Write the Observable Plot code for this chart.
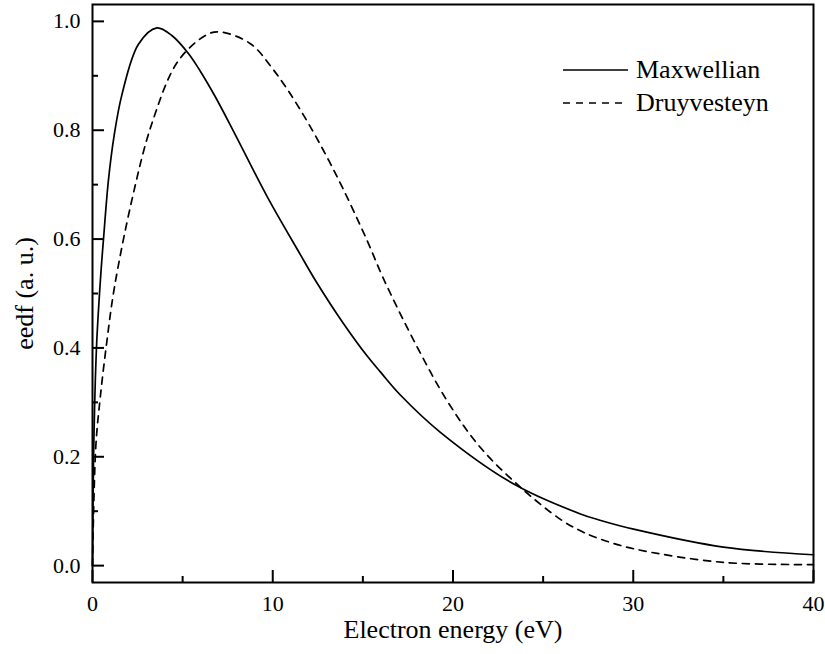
<!DOCTYPE html>
<html>
<head>
<meta charset="utf-8">
<script src="https://cdn.jsdelivr.net/npm/d3@7"></script>
<script src="https://cdn.jsdelivr.net/npm/@observablehq/plot@0.6"></script>
<style>
  html, body { margin: 0; padding: 0; background: #fff; }
  #chart svg { display: block; }
</style>
</head>
<body>
<div id="chart"></div>
<script>
// Electron energy distribution functions (normalised, arbitrary units)
const maxwellEnergy = [0, 0.06, 0.22, 0.45, 0.61, 0.89, 1.2, 1.63, 2.55, 3.57, 4.4, 5.32, 5.99, 6.82, 7.84, 9.69, 11.54, 12.37, 13.94, 15.24, 15.97, 17.08, 19.3, 23.37, 27.07, 28.2, 30.02, 35.0, 40];
const maxwellEedf   = [0, 0.20, 0.40, 0.53, 0.60, 0.71, 0.79, 0.865, 0.958, 0.988, 0.974, 0.941, 0.908, 0.861, 0.797, 0.678, 0.571, 0.524, 0.444, 0.385, 0.356, 0.3135, 0.245, 0.150, 0.095, 0.083, 0.067, 0.034, 0.020];

const druyEnergy = [0, 0.18, 0.43, 0.79, 1.2, 2.18, 3.29, 4.77, 6.43, 7.19, 8.76, 10.06, 11.54, 13.38, 15.24, 15.97, 16.53, 17.82, 19.67, 21.52, 23.74, 25.96, 27.07, 27.99, 30.02, 35.0, 40];
const druyEedf   = [0, 0.217, 0.309, 0.410, 0.508, 0.671, 0.812, 0.928, 0.977, 0.980, 0.959, 0.910, 0.837, 0.727, 0.597, 0.540, 0.500, 0.414, 0.303, 0.217, 0.144, 0.085, 0.064, 0.051, 0.031, 0.006, 0.002];

const seriesNames = ["Maxwellian", "Druyvesteyn"];

// Axis ticks
const xMajor = [0, 10, 20, 30, 40];
const xMinor = [5, 15, 25, 35];
const yMajor = [0, 0.2, 0.4, 0.6, 0.8, 1.0];
const yMinor = [0.1, 0.3, 0.5, 0.7, 0.9];

const xTitle = "Electron energy (eV)";
const yTitle = "eedf (a. u.)";

const maxwell = maxwellEnergy.map((e, i) => ({energy: e, eedf: maxwellEedf[i]}));
const druy = druyEnergy.map((e, i) => ({energy: e, eedf: druyEedf[i]}));

const W = 825, H = 654;
const M = {top: 4, right: 12, bottom: 72, left: 92};
const innerW = W - M.left - M.right;
const innerH = H - M.top - M.bottom;
const FONT = "Liberation Serif";
const DASH = "7,6";

// Legend drawn in the upper-right corner of the frame
function legend(index, scales, values, dims) {
  const g = d3.create("svg:g");
  const right = dims.width - dims.marginRight;
  const x0 = right - 250, x1 = right - 185, tx = right - 177;
  const rows = [
    {name: seriesNames[0], dash: null, y: dims.marginTop + 66},
    {name: seriesNames[1], dash: DASH, y: dims.marginTop + 99}
  ];
  for (const r of rows) {
    g.append("line")
      .attr("x1", x0).attr("x2", x1)
      .attr("y1", r.y).attr("y2", r.y)
      .attr("stroke", "black").attr("stroke-width", 1.7)
      .attr("stroke-dasharray", r.dash);
    g.append("text")
      .attr("x", tx).attr("y", r.y)
      .attr("dy", "0.32em")
      .attr("text-anchor", "start")
      .attr("font-family", FONT).attr("font-size", 26)
      .attr("fill", "black")
      .text(r.name);
  }
  return g.node();
}

const chart = Plot.plot({
  width: W,
  height: H,
  marginTop: M.top,
  marginRight: M.right,
  marginBottom: M.bottom,
  marginLeft: M.left,
  style: {fontFamily: FONT, background: "white", color: "black"},
  x: {domain: [0, 40]},
  y: {domain: [-0.031, 1.031]},
  marks: [
    // tick labels
    Plot.axisX(xMajor, {tickSize: 0, tickPadding: 13, fontSize: 22, label: null, tickFormat: d3.format("d")}),
    Plot.axisY(yMajor, {tickSize: 0, tickPadding: 12, fontSize: 22, label: null, tickFormat: d3.format(".1f")}),
    // inward tick marks
    Plot.tickX(xMajor, {x: d => d, insetTop: innerH - 12, strokeWidth: 2}),
    Plot.tickX(xMinor, {x: d => d, insetTop: innerH - 6, strokeWidth: 2}),
    Plot.tickY(yMajor, {y: d => d, insetRight: innerW - 12, strokeWidth: 2}),
    Plot.tickY(yMinor, {y: d => d, insetRight: innerW - 6, strokeWidth: 2}),
    // curves
    Plot.line(maxwell, {x: "energy", y: "eedf", curve: "catmull-rom", stroke: "black", strokeWidth: 1.7}),
    Plot.line(druy, {x: "energy", y: "eedf", curve: "catmull-rom", stroke: "black", strokeWidth: 1.7, strokeDasharray: DASH}),
    Plot.frame({stroke: "black", strokeWidth: 2}),
    // axis titles
    Plot.text([xTitle], {text: d => d, frameAnchor: "bottom", dy: 47, lineAnchor: "middle", textAnchor: "middle", fontSize: 26, fontFamily: FONT}),
    Plot.text([yTitle], {text: d => d, frameAnchor: "left", dx: -68, rotate: -90, lineAnchor: "middle", textAnchor: "middle", fontSize: 26, fontFamily: FONT}),
    legend
  ]
});

document.getElementById("chart").appendChild(chart);
</script>
</body>
</html>
